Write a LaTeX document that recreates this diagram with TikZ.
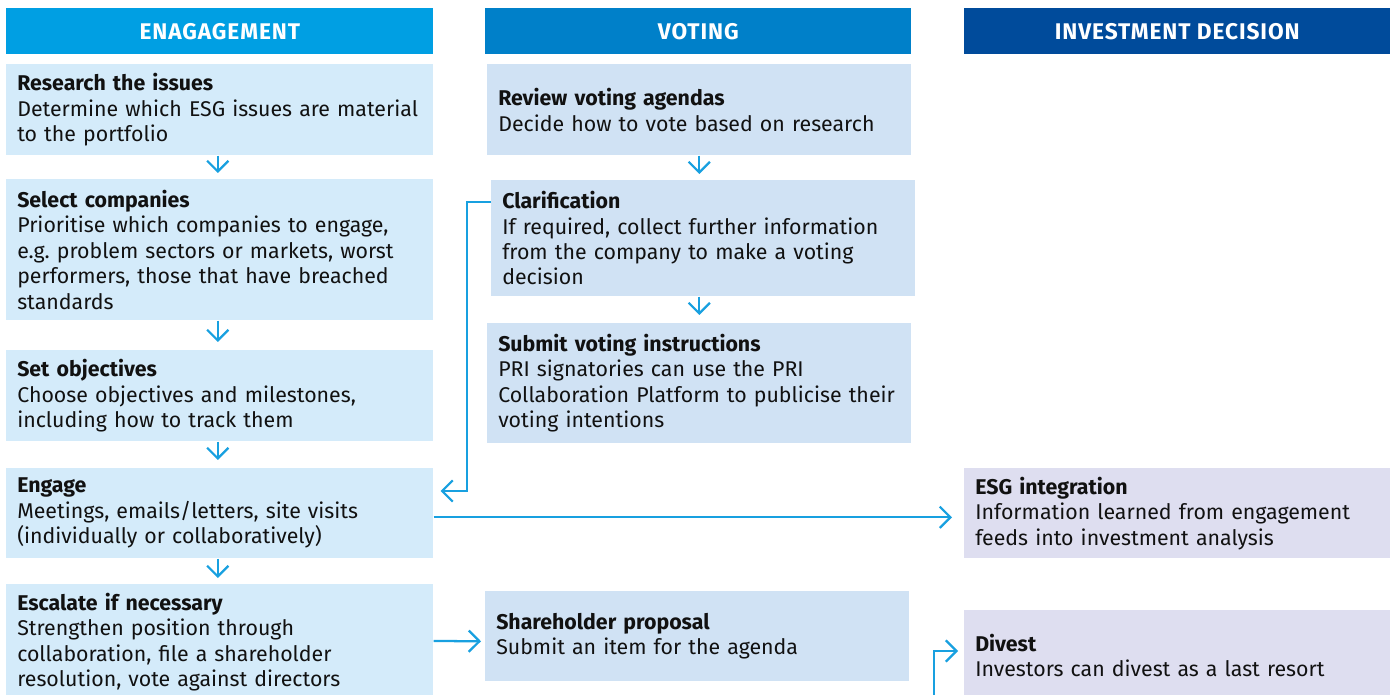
\documentclass[tikz,border=0pt]{standalone}
\usepackage{fontspec}
\setmainfont{Fira Sans}
\usetikzlibrary{arrows.meta,calc}
\definecolor{hA}{HTML}{009FE3}
\definecolor{hB}{HTML}{0080C9}
\definecolor{hC}{HTML}{004B9B}
\definecolor{fA}{HTML}{D4EBFA}
\definecolor{fB}{HTML}{D0E2F4}
\definecolor{fC}{HTML}{DEDEF0}
\definecolor{ac}{HTML}{18A0E0}
\definecolor{tx}{HTML}{111111}
\frenchspacing
\begin{document}
\begin{tikzpicture}[x=0.75pt,y=-0.75pt,
  hdr/.style 2 args={anchor=north west, inner sep=0pt, fill=#1, text=white,
     minimum width={#2*0.75pt}, minimum height=34.5pt,
     font=\bfseries\fontsize{17}{19}\selectfont\addfontfeature{LetterSpace=4}},
  box/.style n args={3}{anchor=north west, inner xsep=8.25pt, inner ysep=0pt,
     fill=#1, text=tx, align=left, text width={(#2-22)*0.75pt},
     minimum width={#2*0.75pt}, minimum height={#3*0.75pt},
     font=\fontsize{16}{19.1}\selectfont},
  arr/.style={draw=ac, line width=1.7pt, -{Straight Barb[length=8pt,width=16pt]}},
]
\clip (0,0) rectangle (1397,695);
\fill[white] (0,0) rectangle (1397,695);
% headers
\node[hdr={hA}{427}] (hE) at (6,8) {ENAGAGEMENT};
\node[hdr={hB}{426}] (hV) at (485,8) {VOTING};
\node[hdr={hC}{426}] (hI) at (964,8) {INVESTMENT DECISION};
% engagement
\node[box={fA}{427}{91}] (res) at (6,64) {\textbf{Research the issues}\\Determine which ESG issues are material\\to the portfolio};
\node[box={fA}{427}{141}] (sel) at (6,179) {\textbf{Select companies}\\Prioritise which companies to engage,\\e.g. problem sectors or markets, worst\\performers, those that have breached\\standards};
\node[box={fA}{427}{91}] (obj) at (6,350) {\textbf{Set objectives}\\Choose objectives and milestones,\\including how to track them};
\node[box={fA}{427}{90}] (eng) at (6,468) {\textbf{Engage}\\Meetings, emails/letters, site visits\\(individually or collaboratively)};
\node[box={fA}{427}{116}] (esc) at (6,584) {\textbf{Escalate if necessary}\\Strengthen position through\\collaboration, file a shareholder\\resolution, vote against directors};
% voting
\node[box={fB}{424}{91}] (rev) at (487,64) {\textbf{Review voting agendas}\\Decide how to vote based on research};
\node[box={fB}{424}{116}] (cla) at (491,180) {\textbf{Clarification}\\If required, collect further information\\from the company to make a voting\\decision};
\node[box={fB}{424}{120}] (sub) at (487,323) {\textbf{Submit voting instructions}\\PRI signatories can use the PRI\\Collaboration Platform to publicise their\\voting intentions};
\node[box={fB}{424}{90}] (sha) at (485,591) {\textbf{Shareholder proposal}\\Submit an item for the agenda};
% investment decision
\node[box={fC}{426}{90}] (esg) at (964,468) {\textbf{ESG integration}\\Information learned from engagement\\feeds into investment analysis};
\node[box={fC}{426}{90}] (div) at (964,610) {\textbf{Divest}\\Investors can divest as a last resort};
% connectors
\draw[arr] ($(res.south)+(-2,0)$) -- ($(sel.north)+(-2,-6)$);
\draw[arr] ($(sel.south)+(-2,0)$) -- ($(obj.north)+(-2,-8)$);
\draw[arr] ($(obj.south)+(-2,0)$) -- ($(eng.north)+(-2,-8)$);
\draw[arr] ($(eng.south)+(-2,0)$) -- ($(esc.north)+(-2,-6)$);
\draw[arr] (rev.south) -- ($(cla.north)+(-4,-6)$);
\draw[arr] ($(cla.south)+(-4,0)$) -- ($(sub.north)+(0,-8)$);
\draw[arr] ($(cla.north west)+(0,22)$) -- ++(-24,0) |- ($(eng.north east)+(7,23)$);
\draw[arr] ($(eng.east)+(0,4)$) -- ($(esg.west)+(-12,4)$);
\draw[arr] ($(esc.north east)+(0,57)$) -- ($(sha.west)+(-4,5)$);
\coordinate (dvin) at (934,700);
\draw[arr] (dvin) |- ($(div.north west)+(-6,41)$);
\end{tikzpicture}
\end{document}
